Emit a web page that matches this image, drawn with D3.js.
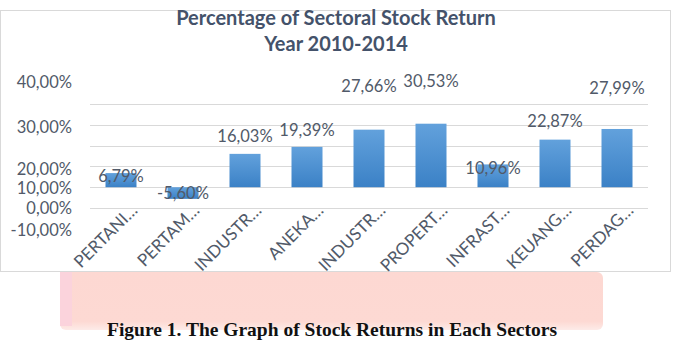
<!DOCTYPE html>
<html>
<head>
<meta charset="utf-8">
<script src="https://cdn.jsdelivr.net/npm/d3@7"></script>
<style>
  body { margin: 0; background: #fff; }
  svg { display: block; }
</style>
</head>
<body>
<svg id="chart" width="674" height="340"></svg>
<script>
// sector names as they appear (truncated) on the category axis
var categories = ["PERTANI…", "PERTAM…", "INDUSTR…", "ANEKA…", "INDUSTR…", "PROPERT…", "INFRAST…", "KEUANG…", "PERDAG…"];
var returns = [6.79, -5.60, 16.03, 19.39, 27.66, 30.53, 10.96, 22.87, 27.99];
var yTicks = [-10, 0, 10, 20, 30, 40];
var titleLines = ["Percentage of Sectoral Stock Return", "Year 2010-2014"];
var caption = "Figure 1. The Graph of Stock Returns in Each Sectors";

// layout only: how far each value label sits from the bar end (px)
var labelDy = [9, 0, -12, -11, -38, -37, 10, -13, -35];

var dimensions = {
  width: 674,
  height: 340,
  plot: { left: 90, right: 648, top: 104, bottom: 208 },
};

var textColor = "#515a69";
var titleColor = "#44526a";
var font = "Lato, Carlito, 'Open Sans', sans-serif";

var svg = d3.select("#chart");

// pink strip behind the caption
var defs = svg.append("defs");
var fade = defs
  .append("linearGradient")
  .attr("id", "pinkFade")
  .attr("x1", 0).attr("x2", 0).attr("y1", 0).attr("y2", 1);
fade.append("stop").attr("offset", "0%").attr("stop-color", "#fdd8d2");
fade.append("stop").attr("offset", "85%").attr("stop-color", "#fdd9d3");
fade.append("stop").attr("offset", "100%").attr("stop-color", "#fdebe8");

svg
  .append("rect")
  .attr("x", 60)
  .attr("y", 272)
  .attr("width", 543)
  .attr("height", 58)
  .attr("rx", 6)
  .attr("fill", "url(#pinkFade)");
svg
  .append("rect")
  .attr("x", 60)
  .attr("y", 272)
  .attr("width", 12)
  .attr("height", 54)
  .attr("fill", "#fbd3dc");

// chart frame
svg
  .append("rect")
  .attr("x", 0.5)
  .attr("y", 10.5)
  .attr("width", 670)
  .attr("height", 261)
  .attr("fill", "#fff")
  .attr("stroke", "#d9d9d9");

var barGrad = defs
  .append("linearGradient")
  .attr("id", "barGrad")
  .attr("x1", 0).attr("x2", 0).attr("y1", 0).attr("y2", 1);
barGrad.append("stop").attr("offset", "0%").attr("stop-color", "#62a1dc");
barGrad.append("stop").attr("offset", "100%").attr("stop-color", "#3b81c6");

var xScale = d3
  .scaleBand()
  .domain(categories.map(function (d, i) { return i; }))
  .range([dimensions.plot.left, dimensions.plot.right])
  .paddingInner(0.5)
  .paddingOuter(0.25);

var yScale = d3
  .scaleLinear()
  .domain([-10, 40])
  .range([dimensions.plot.bottom, dimensions.plot.top]);

// the source figure has its tick labels shifted away from the gridlines,
// so the labels get their own (piecewise) scale
var tickLabelScale = d3
  .scaleLinear()
  .domain(yTicks)
  .range([230, 208, 188, 169, 127, 82]);

// gridlines
svg
  .append("g")
  .selectAll("line")
  .data(yTicks)
  .enter()
  .append("line")
  .attr("x1", dimensions.plot.left)
  .attr("x2", dimensions.plot.right)
  .attr("y1", function (d) { return Math.round(yScale(d)) + 0.5; })
  .attr("y2", function (d) { return Math.round(yScale(d)) + 0.5; })
  .attr("stroke", "#d9d9d9")
  .attr("stroke-width", 1);

var fmt = function (v) {
  return d3.format(".2f")(v).replace(".", ",").replace("−", "-") + "%";
};

// y axis labels
var yAxis = d3
  .axisLeft(tickLabelScale)
  .tickValues(yTicks)
  .tickSize(0)
  .tickPadding(0)
  .tickFormat(fmt);

var yAxisG = svg.append("g").attr("transform", "translate(72,0)").call(yAxis);
yAxisG.select(".domain").remove();
yAxisG
  .selectAll("text")
  .attr("fill", textColor)
  .style("font-family", font)
  .style("font-size", "16.5px");

// bars
svg
  .append("g")
  .selectAll("rect")
  .data(returns)
  .enter()
  .append("rect")
  .attr("x", function (d, i) { return xScale(i); })
  .attr("width", xScale.bandwidth())
  .attr("y", function (d) { return yScale(Math.max(0, d)); })
  .attr("height", function (d) { return Math.abs(yScale(d) - yScale(0)); })
  .attr("fill", "url(#barGrad)");

// value labels
svg
  .append("g")
  .selectAll("text")
  .data(returns)
  .enter()
  .append("text")
  .attr("x", function (d, i) { return xScale(i) + xScale.bandwidth() / 2; })
  .attr("y", function (d, i) { return yScale(d) + labelDy[i]; })
  .attr("text-anchor", "middle")
  .attr("fill", textColor)
  .style("font-family", font)
  .style("font-size", "16.5px")
  .text(fmt);

// category labels, rotated
var xAxis = d3
  .axisBottom(xScale)
  .tickSize(0)
  .tickPadding(0)
  .tickFormat(function (i) { return categories[i]; });

var xAxisG = svg.append("g").call(xAxis);
xAxisG.select(".domain").remove();
xAxisG.selectAll(".tick").attr("transform", function (i) {
  return "translate(" + (xScale(i) + xScale.bandwidth() / 2 + 9) + ",203)";
});
xAxisG
  .selectAll("text")
  .attr("y", 0)
  .attr("dy", "0.7em")
  .attr("text-anchor", "end")
  .attr("transform", "rotate(-45)")
  .attr("fill", textColor)
  .style("font-family", font)
  .style("font-size", "17px");

// title
svg
  .append("g")
  .selectAll("text")
  .data(titleLines)
  .enter()
  .append("text")
  .attr("x", 336)
  .attr("y", function (d, i) { return 25 + i * 26; })
  .attr("text-anchor", "middle")
  .attr("fill", titleColor)
  .style("font-family", font)
  .style("font-weight", "bold")
  .style("font-size", "20px")
  .text(function (d) { return d; });

// caption under the chart
svg
  .append("text")
  .attr("x", 332)
  .attr("y", 336)
  .attr("text-anchor", "middle")
  .attr("fill", "#111")
  .style("font-family", "'Liberation Serif', 'Times New Roman', serif")
  .style("font-weight", "bold")
  .style("font-size", "19.5px")
  .text(caption);
</script>
</body>
</html>
